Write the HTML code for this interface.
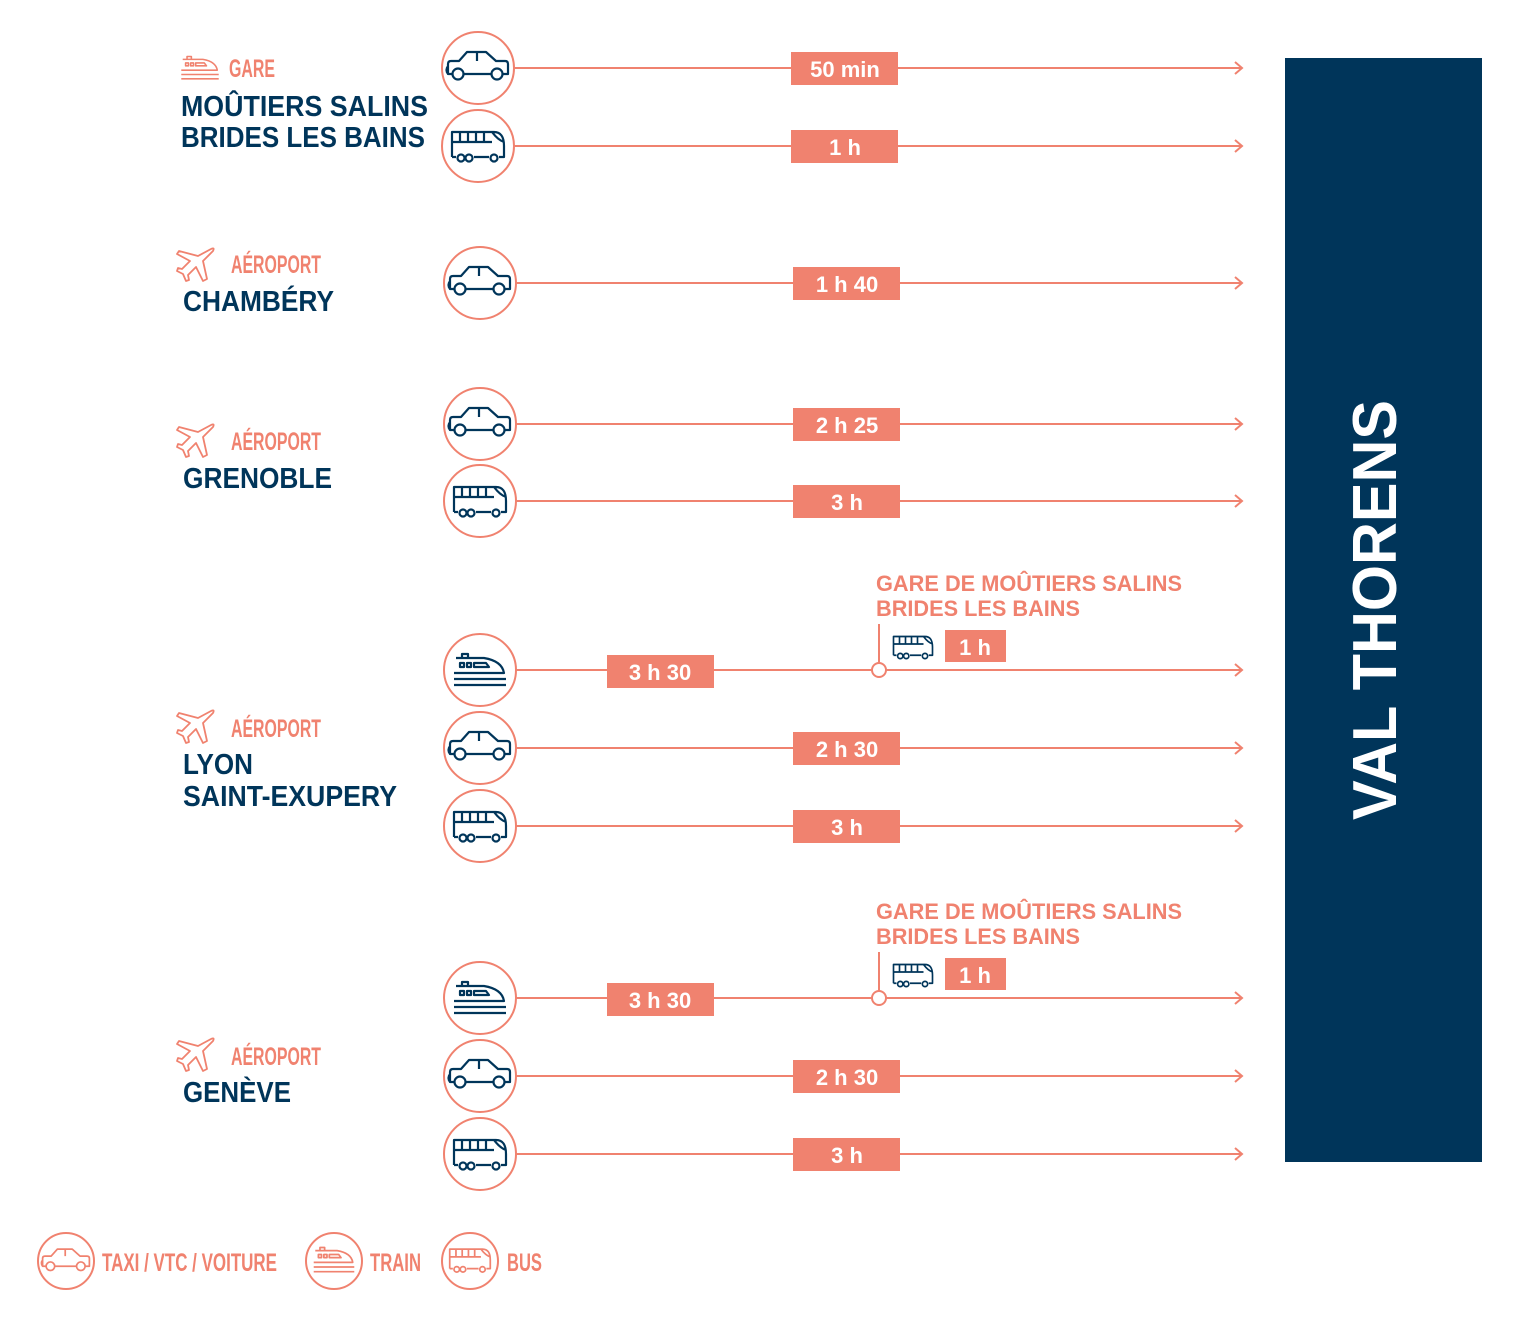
<!DOCTYPE html>
<html><head><meta charset="utf-8"><style>
html,body{margin:0;padding:0;background:#fff;}
svg{display:block;}
.s{font-family:"Liberation Sans Narrow","Liberation Sans",sans-serif;fill:#F0826F;font-weight:bold;}
.t{font-family:"Liberation Sans",sans-serif;font-weight:bold;fill:#00355A;}
.b{font-family:"Liberation Sans",sans-serif;fill:#fff;font-size:22px;text-anchor:middle;font-weight:bold;}
.g{font-family:"Liberation Sans",sans-serif;fill:#F0826F;font-size:22px;font-weight:bold;}
</style></head><body>
<svg width="1536" height="1318" viewBox="0 0 1536 1318" xmlns="http://www.w3.org/2000/svg">
<defs>
<g id="car" fill="none" stroke-width="2.2" stroke-linejoin="round">
<path d="M-25,8 H-30 V-2 Q-30,-5 -27,-5 H-19 L-11,-14 H8 L18,-5 H27 Q30,-5 30,-2 V8 H24 M14,8 H-15 M-1,-14 V-5 M-30,0 Q-33,4 -30,8"/>
<circle cx="-20" cy="8" r="5.5"/><circle cx="19" cy="8" r="5.5"/>
</g>
<g id="bus" fill="none" stroke-width="2.2" stroke-linejoin="round">
<path d="M-26,11 V-14 H16 Q26,-14 26,0 V11 H21 M11,11 H-4 M-22,11 H-26 M-26,-4 H14 M-18,-14 V-4 M-10,-14 V-4 M-2,-14 V-4 M6,-14 V-4 M14,-14 Q20,-6 26,-4"/>
<circle cx="-17" cy="12" r="3.5"/><circle cx="-9" cy="12" r="3.5"/><circle cx="16" cy="12" r="3.5"/>
</g>
<g id="train" fill="none" stroke-width="2.2" stroke-linejoin="round">
<path d="M-26,3 H24 Q22,-9 4,-12 H-24 M-26,9 H26 M-26,15 H26 M-18,-12 V-16 H-12 V-12"/>
<rect x="-20" y="-7" width="4" height="4"/><rect x="-13" y="-7" width="4" height="4"/><path d="M-6,-7 H6 L9,-3 H-6 Z"/>
</g>
<g id="plane" fill="none" stroke="#F0826F" stroke-width="1.8" stroke-linejoin="round">
<path d="M14,-16 Q18,-18 16,-14 L6,-4 L10,14 L6,16 L-1,2 L-9,10 L-8,15 L-11,16 L-14,9 L-20,6 L-19,3 L-15,4 L-7,-4 L-20,-11 L-18,-14 L1,-9 Z"/>
</g>
</defs>

<rect x="1285" y="58" width="197" height="1104" fill="#00355A"/>
<text transform="translate(1396,610) rotate(-90)" text-anchor="middle" font-family="Liberation Sans,sans-serif" font-weight="bold" font-size="62" fill="#fff" textLength="420" lengthAdjust="spacingAndGlyphs">VAL THORENS</text>

<g stroke="#F0826F" stroke-width="2" fill="none">
<path d="M514,68 H1242 M1235,62 L1242,68 L1235,74"/>
<path d="M514,146 H1242 M1235,140 L1242,146 L1235,152"/>
<path d="M516,283 H1242 M1235,277 L1242,283 L1235,289"/>
<path d="M516,424 H1242 M1235,418 L1242,424 L1235,430"/>
<path d="M516,501 H1242 M1235,495 L1242,501 L1235,507"/>
<path d="M516,670 H872 M886,670 H1242 M1235,664 L1242,670 L1235,676 M879,624 V663"/>
<path d="M516,748 H1242 M1235,742 L1242,748 L1235,754"/>
<path d="M516,826 H1242 M1235,820 L1242,826 L1235,832"/>
<path d="M516,998 H872 M886,998 H1242 M1235,992 L1242,998 L1235,1004 M879,952 V991"/>
<path d="M516,1076 H1242 M1235,1070 L1242,1076 L1235,1082"/>
<path d="M516,1154 H1242 M1235,1148 L1242,1154 L1235,1160"/>
<circle cx="879" cy="670" r="7" fill="#fff"/>
<circle cx="879" cy="998" r="7" fill="#fff"/>
<circle cx="478" cy="68" r="36" fill="#fff"/><circle cx="478" cy="146" r="36" fill="#fff"/>
<circle cx="480" cy="283" r="36" fill="#fff"/><circle cx="480" cy="424" r="36" fill="#fff"/>
<circle cx="480" cy="501" r="36" fill="#fff"/><circle cx="480" cy="670" r="36" fill="#fff"/>
<circle cx="480" cy="748" r="36" fill="#fff"/><circle cx="480" cy="826" r="36" fill="#fff"/>
<circle cx="480" cy="998" r="36" fill="#fff"/><circle cx="480" cy="1076" r="36" fill="#fff"/>
<circle cx="480" cy="1154" r="36" fill="#fff"/>
<circle cx="66" cy="1261" r="28"/><circle cx="334" cy="1261" r="28"/><circle cx="470" cy="1261" r="28"/>
</g>

<g stroke="#00355A">
<use href="#car" x="478" y="66"/>
<use href="#bus" x="478" y="146"/>
<use href="#car" x="480" y="281"/>
<use href="#car" x="480" y="422"/>
<use href="#bus" x="480" y="501"/>
<use href="#train" x="480" y="670"/>
<use href="#car" x="480" y="746"/>
<use href="#bus" x="480" y="826"/>
<use href="#train" x="480" y="998"/>
<use href="#car" x="480" y="1074"/>
<use href="#bus" x="480" y="1154"/>
<use href="#bus" transform="translate(913,647) scale(0.75)"/>
<use href="#bus" transform="translate(913,975) scale(0.75)"/>
</g>
<g stroke="#F0826F">
<use href="#car" transform="translate(66,1260) scale(0.78)"/>
<use href="#train" transform="translate(334,1260) scale(0.78)"/>
<use href="#bus" transform="translate(470,1260) scale(0.78)"/>
<use href="#train" transform="translate(200,68) scale(0.72)"/>
</g>
<use href="#plane" x="197" y="265"/>
<use href="#plane" x="197" y="441"/>
<use href="#plane" x="197" y="727"/>
<use href="#plane" x="197" y="1055"/>

<g fill="#F0826F">
<rect x="791" y="52" width="107" height="33"/><rect x="791" y="130" width="107" height="33"/>
<rect x="793" y="267" width="107" height="33"/><rect x="793" y="408" width="107" height="33"/>
<rect x="793" y="485" width="107" height="33"/><rect x="607" y="655" width="107" height="33"/>
<rect x="945" y="630" width="61" height="32"/><rect x="793" y="732" width="107" height="33"/>
<rect x="793" y="810" width="107" height="33"/><rect x="607" y="983" width="107" height="33"/>
<rect x="945" y="958" width="61" height="32"/><rect x="793" y="1060" width="107" height="33"/>
<rect x="793" y="1138" width="107" height="33"/>
</g>
<g class="b">
<text x="845" y="77">50 min</text><text x="845" y="155">1 h</text>
<text x="847" y="292">1 h 40</text><text x="847" y="433">2 h 25</text>
<text x="847" y="510">3 h</text><text x="660" y="680">3 h 30</text>
<text x="975" y="655">1 h</text><text x="847" y="757">2 h 30</text>
<text x="847" y="835">3 h</text><text x="660" y="1008">3 h 30</text>
<text x="975" y="983">1 h</text><text x="847" y="1085">2 h 30</text>
<text x="847" y="1163">3 h</text>
</g>

<g class="g">
<text x="876" y="591" textLength="306" lengthAdjust="spacingAndGlyphs">GARE DE MOÛTIERS SALINS</text>
<text x="876" y="616" textLength="204" lengthAdjust="spacingAndGlyphs">BRIDES LES BAINS</text>
<text x="876" y="919" textLength="306" lengthAdjust="spacingAndGlyphs">GARE DE MOÛTIERS SALINS</text>
<text x="876" y="944" textLength="204" lengthAdjust="spacingAndGlyphs">BRIDES LES BAINS</text>
</g>

<g class="s" font-size="25">
<text x="229" y="77" textLength="46" lengthAdjust="spacingAndGlyphs">GARE</text>
<text x="231" y="273" textLength="90" lengthAdjust="spacingAndGlyphs">AÉROPORT</text>
<text x="231" y="450" textLength="90" lengthAdjust="spacingAndGlyphs">AÉROPORT</text>
<text x="231" y="737" textLength="90" lengthAdjust="spacingAndGlyphs">AÉROPORT</text>
<text x="231" y="1065" textLength="90" lengthAdjust="spacingAndGlyphs">AÉROPORT</text>
<text x="102" y="1271" textLength="175" lengthAdjust="spacingAndGlyphs">TAXI / VTC / VOITURE</text>
<text x="370" y="1271" textLength="51" lengthAdjust="spacingAndGlyphs">TRAIN</text>
<text x="507" y="1271" textLength="35" lengthAdjust="spacingAndGlyphs">BUS</text>
</g>

<g class="t" font-size="29">
<text x="181" y="116" textLength="247" lengthAdjust="spacingAndGlyphs">MOÛTIERS SALINS</text>
<text x="181" y="147" textLength="244" lengthAdjust="spacingAndGlyphs">BRIDES LES BAINS</text>
<text x="183" y="311" textLength="151" lengthAdjust="spacingAndGlyphs">CHAMBÉRY</text>
<text x="183" y="488" textLength="149" lengthAdjust="spacingAndGlyphs">GRENOBLE</text>
<text x="183" y="774" textLength="70" lengthAdjust="spacingAndGlyphs">LYON</text>
<text x="183" y="806" textLength="214" lengthAdjust="spacingAndGlyphs">SAINT-EXUPERY</text>
<text x="183" y="1102" textLength="108" lengthAdjust="spacingAndGlyphs">GENÈVE</text>
</g>
</svg>
</body></html>
